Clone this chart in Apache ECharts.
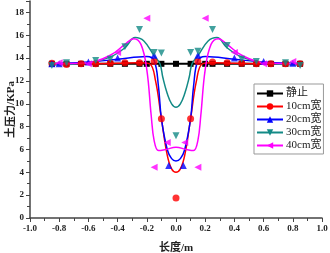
<!DOCTYPE html>
<html>
<head>
    <meta charset="utf-8">
    <script type="text/javascript" src="https://cdn.jsdelivr.net/npm/echarts@6/dist/echarts.min.js"></script>
</head>
<body style="margin: 0; background: #fff">
    <div id="container" style="height: 253px; width: 330px;"></div>
    <script type="text/javascript">
    // series names
    var names = ['静止', '10cm宽', '20cm宽', '30cm宽', '40cm宽'];

    // measured points [length m, pressure KPa]
    var pts0 = [[-0.85,13.5],[-0.75,13.5],[-0.65,13.5],[-0.55,13.5],[-0.45,13.5],[-0.35,13.5],[-0.25,13.5],[-0.2,13.5],[-0.1,13.5],[0,13.5],
                [0.1,13.5],[0.2,13.5],[0.25,13.5],[0.35,13.5],[0.45,13.5],[0.55,13.5],[0.65,13.5],[0.75,13.5],[0.85,13.5]];
    var pts10 = [[-0.85,13.55],[-0.75,13.45],[-0.65,13.5],[-0.55,13.5],[-0.45,13.55],[-0.35,13.6],[-0.25,13.6],[-0.15,13.7],[-0.1,8.7],[0,1.75],
                 [0.1,8.7],[0.15,13.7],[0.25,13.65],[0.35,13.6],[0.45,13.55],[0.55,13.5],[0.65,13.5],[0.75,13.5],[0.85,13.5]];
    var pts20 = [[-0.85,13.5],[-0.8,13.5],[-0.6,13.65],[-0.4,14.0],[-0.15,14.25],[-0.05,4.6],
                 [0.05,4.6],[0.15,14.25],[0.4,14.0],[0.6,13.7],[0.8,13.55]];
    var pts30 = [[-0.85,13.35],[-0.75,13.6],[-0.55,13.8],[-0.45,13.9],[-0.35,15.0],[-0.25,16.5],[-0.15,14.5],[-0.1,14.45],[0,7.2],
                 [0.1,14.5],[0.15,14.6],[0.25,16.5],[0.35,15.1],[0.45,13.9],[0.55,13.7],[0.75,13.6],[0.85,13.35]];
    var pts40 = [[-0.8,13.6],[-0.6,13.5],[-0.4,14.5],[-0.2,17.5],[-0.15,4.45],[-0.06,6.6],
                 [0.06,6.6],[0.15,4.45],[0.2,17.5],[0.4,14.5],[0.6,13.5],[0.8,13.7]];

    // fitted curves (half, mirrored about 0)
    var fit10 = [[-0.85,13.5],[-0.6,13.5],[-0.4,13.55],[-0.25,13.6],[-0.18,13.5],[-0.14,12],[-0.1,8.7],[-0.06,5.5],[-0.03,4.3],[0,4.0]];
    var fit20 = [[-0.85,13.5],[-0.6,13.65],[-0.4,13.9],[-0.2,14.15],[-0.15,13.8],[-0.12,11.5],[-0.1,8.7],[-0.06,6.0],[-0.03,5.2],[0,5.0]];
    var fit30 = [[-0.85,13.4],[-0.6,13.6],[-0.45,14.1],[-0.35,14.9],[-0.28,15.8],[-0.22,15.5],[-0.15,14.2],[-0.11,13.5],[-0.09,12.3],[-0.06,10.9],[-0.03,10.0],[0,9.7]];
    var fit40 = [[-0.85,13.5],[-0.6,13.6],[-0.45,14.25],[-0.35,15.2],[-0.29,15.7],[-0.24,15.2],[-0.2,13],[-0.17,9],[-0.15,6.8],[-0.12,5.9],[-0.07,6.0],[0,6.2]];

    var colors = ['#000000', '#ff0000', '#0000ff', '#138a86', '#ff00ff'];
    var symbols = ['rect', 'circle', 'triangle', 'triangle', 'triangle'];
    var rotates = [0, 0, 0, 180, 90];

    function mirror(half) {
        var out = half.slice();
        for (var i = half.length - 2; i >= 0; i--) {
            out.push([-half[i][0], half[i][1]]);
        }
        return out;
    }

    var fits = [null, mirror(fit10), mirror(fit20), mirror(fit30), mirror(fit40)];
    var pts = [pts0, pts10, pts20, pts30, pts40];

    var labelFont = {
        fontFamily: 'Liberation Serif, Noto Sans CJK SC',
        fontWeight: 'bold',
        fontSize: 9,
        color: '#222'
    };

    var series = [];
    // straight line for 静止
    series.push({
        name: names[0],
        type: 'line',
        data: pts0,
        symbol: 'rect',
        symbolSize: 6,
        lineStyle: { color: colors[0], width: 2 },
        itemStyle: { color: colors[0] },
        z: 2
    });
    for (var k = 1; k < 5; k++) {
        series.push({
            name: names[k],
            type: 'line',
            data: fits[k],
            smooth: 0.4,
            showSymbol: false,
            symbol: symbols[k],
            symbolRotate: rotates[k],
            symbolSize: 7,
            lineStyle: { color: colors[k], width: 1.5 },
            itemStyle: { color: colors[k] },
            z: 2 + k
        });
        series.push({
            name: names[k],
            type: 'scatter',
            data: pts[k],
            symbol: symbols[k],
            symbolRotate: rotates[k],
            symbolSize: 7,
            itemStyle: { color: colors[k] },
            z: 8 + k
        });
    }

    var myChart = echarts.init(document.getElementById('container'));
    var option = {
        animation: false,
        grid: { left: 30, right: 8, top: 1, bottom: 35, containLabel: false, outerBoundsMode: 'none' },
        legend: {
            data: names,
            orient: 'vertical',
            left: 254,
            top: 84,
            width: 68,
            itemWidth: 26,
            itemHeight: 8,
            itemGap: 2,
            padding: [4, 2, 3, 2],
            backgroundColor: '#fff',
            borderColor: '#999',
            borderWidth: 1,
            borderRadius: 0,
            textStyle: {
                fontFamily: 'Liberation Serif, Noto Sans CJK SC',
                fontSize: 11,
                color: '#222',
                padding: [0, 0, 0, -2]
            }
        },
        xAxis: {
            type: 'value',
            min: -1,
            max: 1,
            interval: 0.2,
            name: '长度/m',
            nameLocation: 'middle',
            nameGap: 25,
            nameMoveOverlap: false,
            nameTextStyle: { fontFamily: 'Liberation Serif, Noto Sans CJK SC', fontWeight: 'bold', fontSize: 11, color: '#222' },
            axisLine: { onZero: false, lineStyle: { color: '#444', width: 1.5 } },
            axisTick: { show: true, length: 4, lineStyle: { color: '#444' } },
            minorTick: { show: true, splitNumber: 2, length: 3, lineStyle: { color: '#444' } },
            splitLine: { show: false },
            axisLabel: Object.assign({ formatter: function (v) { return v.toFixed(1); }, margin: 6 }, labelFont)
        },
        yAxis: {
            type: 'value',
            min: 0,
            max: 19,
            interval: 2,
            name: '土压力/KPa',
            nameLocation: 'middle',
            nameGap: 13,
            nameMoveOverlap: false,
            nameTextStyle: { fontFamily: 'Liberation Serif, Noto Sans CJK SC', fontWeight: 'bold', fontSize: 11, color: '#222' },
            axisLine: { onZero: false, lineStyle: { color: '#444', width: 1.5 } },
            axisTick: { show: true, length: 4, lineStyle: { color: '#444' } },
            minorTick: { show: true, splitNumber: 2, length: 3, lineStyle: { color: '#444' } },
            splitLine: { show: false },
            axisLabel: Object.assign({ showMaxLabel: false, margin: 6 }, labelFont)
        },
        series: series
    };
    myChart.setOption(option);
    </script>
</body>
</html>
